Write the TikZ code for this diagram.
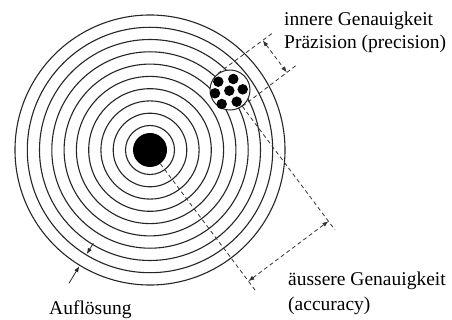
\documentclass[tikz,border=0pt]{standalone}
\usepackage{fontspec}
\setmainfont{Liberation Serif}
\usetikzlibrary{arrows.meta,calc}
\begin{document}
\begin{tikzpicture}[x=1pt,y=-1pt,
  ring/.style={draw=black!85, line width=1.1pt},
  dimline/.style={draw=black!80, line width=0.8pt, dash pattern=on 4pt off 3pt},
  dimarrow/.style={dimline, {Latex[length=6pt,width=4.5pt]}-{Latex[length=6pt,width=4.5pt]}},
  resarrow/.style={draw=black!85, line width=0.8pt, -{Latex[length=6pt,width=4.5pt]}},
  lbl/.style={anchor=base west, inner sep=0pt, font=\fontsize{19.5}{23}\selectfont},
  hit/.style={circle, fill=black, minimum size=10.5pt, inner sep=0pt}]
\useasboundingbox (0,0) rectangle (452,320);
\fill[white] (0,0) rectangle (452,320);
\coordinate (C) at (150,150);
\foreach \r in {24.5,36.8,49.1,61.3,73.6,85.9,98.2,110.5,122.7,135.0}
  \draw[ring] (C) circle[radius=\r];
\node[circle, fill=black, minimum size=34pt, inner sep=0pt] (dot) at (C) {};
\node[circle, draw=black!85, line width=1pt, fill=white, minimum size=40pt, inner sep=0pt] (clu) at (230,90) {};
\foreach \x/\y [count=\i] in {218.3/81.7, 233.3/79, 215/93.3, 229.3/90.7, 242.7/89.3, 221.7/104, 236.7/101.7}
  \node[hit] (g\i) at (\x,\y) {};
% outer accuracy
\coordinate (o1e) at (256.8,292.4);
\coordinate (o2e) at (335,230);
\coordinate (oa) at (248.4,281.2);
\coordinate (ob) at (328.4,221.2);
\draw[dimline] (dot.-53.13) -- (o1e);
\draw[dimline] (clu.-53.13) -- (o2e);
\draw[dimarrow] (oa) -- (ob);
% inner precision
\coordinate (i1e) at (272.4,33.2);
\coordinate (i2e) at (296.4,65.2);
\coordinate (ia) at (262.8,40.4);
\coordinate (ib) at (286.8,72.4);
\draw[dimline] (clu.126.87) -- (i1e);
\draw[dimline] (clu.-53.13) -- (i2e);
\draw[dimarrow] (ia) -- (ib);
% resolution
\coordinate (a1s) at ($(C)+(121.3:109)$);
\coordinate (a1e) at ($(C)+(121.3:121.8)$);
\coordinate (a2s) at ($(C)+(121.3:156)$);
\coordinate (a2e) at ($(C)+(121.3:136)$);
\draw[resarrow] (a1s) -- (a1e);
\draw[resarrow] (a2s) -- (a2e);
% labels
\node[lbl] (t1) at (284,26) {innere Genauigkeit};
\node[lbl] (t2) at (284,48.3) {Präzision (precision)};
\node[lbl] (t3) at (288,285) {äussere Genauigkeit};
\node[lbl] (t4) at (288,310) {(accuracy)};
\node[lbl] (t5) at (49,314) {Auflösung};
\end{tikzpicture}
\end{document}
